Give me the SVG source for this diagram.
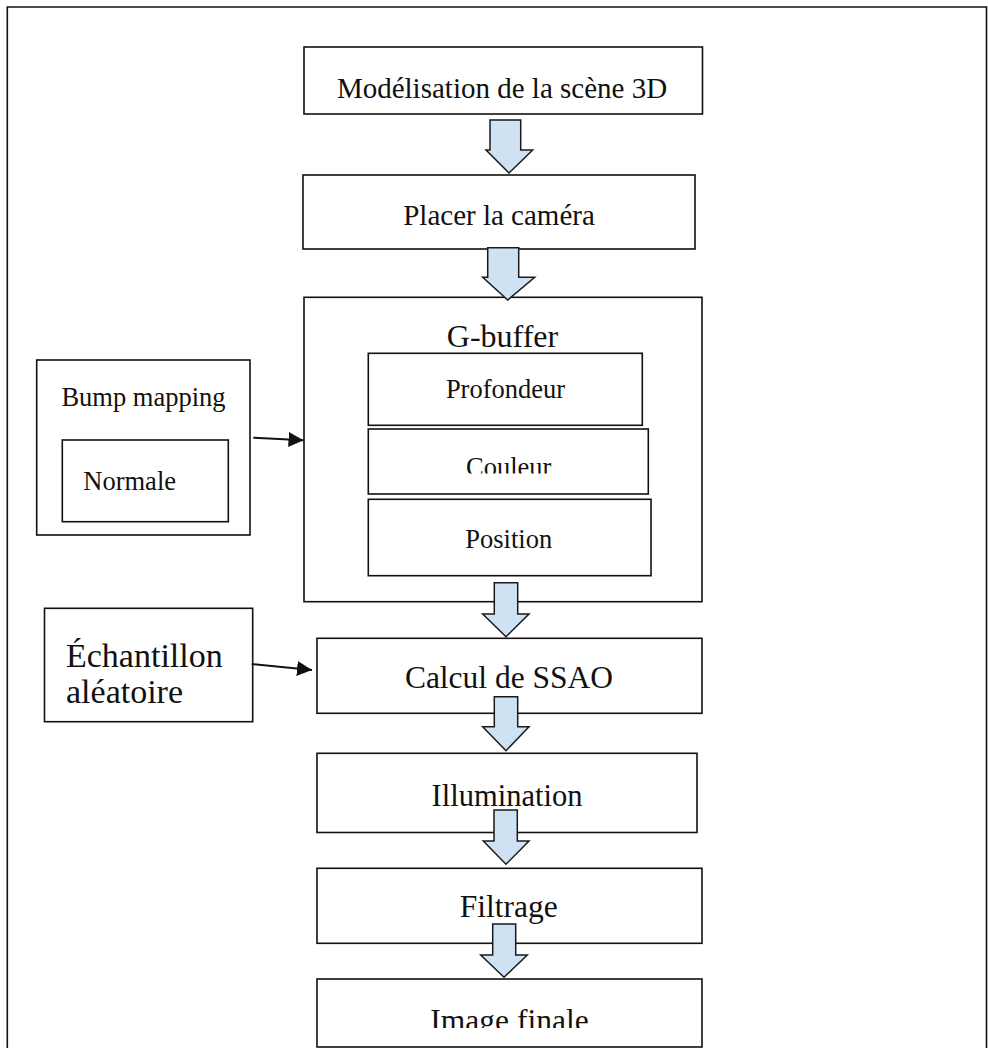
<svg xmlns="http://www.w3.org/2000/svg" width="988" height="1048" viewBox="0 0 988 1048">
<defs>
<style>
.box{fill:#fff;stroke:#111;stroke-width:1.6}
.t{font-family:"Liberation Serif","Times New Roman",serif;fill:#111}
.c{text-anchor:middle}
.flow{fill:#cfe2f3;stroke:#1a1a1a;stroke-width:1.5;stroke-linejoin:miter}
.line{stroke:#111;stroke-width:2;fill:none}
</style>
<marker id="ah" viewBox="0 0 10 10" refX="10" refY="5" markerWidth="7.5" markerHeight="7.5" markerUnits="strokeWidth" orient="auto">
<path d="M0,0 L10,5 L0,10 Z" fill="#111"/>
</marker>
<clipPath id="clipCouleur"><rect x="368" y="429" width="280" height="44.5"/></clipPath>
<clipPath id="clipFinale"><rect x="316" y="979" width="386" height="49"/></clipPath>
</defs>
<rect x="0" y="0" width="988" height="1048" fill="#fff"/>
<path d="M7.3,1048 V7 H986.5 V1048" fill="none" stroke="#111" stroke-width="1.6"/>

<g id="node-modelisation">
<rect class="box" x="304" y="47" width="398.5" height="67"/>
<text class="t c" x="502" y="97.5" font-size="29">Modélisation de la scène 3D</text>
</g>

<g id="node-camera">
<rect class="box" x="303" y="175" width="392" height="74"/>
<text class="t c" x="499" y="224.5" font-size="29">Placer la caméra</text>
</g>

<g id="node-gbuffer">
<rect class="box" x="304" y="297.3" width="398" height="304.4"/>
<text class="t c" x="502.5" y="347" font-size="32">G-buffer</text>
<g id="node-profondeur">
<rect class="box" x="368.3" y="353.3" width="274" height="72"/>
<text class="t c" x="505.5" y="398" font-size="26.5">Profondeur</text>
</g>
<g id="node-couleur">
<rect class="box" x="368.3" y="429" width="280" height="65"/>
<text class="t c" x="508.7" y="476" font-size="26.5" clip-path="url(#clipCouleur)">Couleur</text>
</g>
<g id="node-position">
<rect class="box" x="368.3" y="499.3" width="282.7" height="76.4"/>
<text class="t c" x="508.7" y="548" font-size="26.5">Position</text>
</g>
</g>

<g id="node-bump">
<rect class="box" x="36.7" y="360" width="213.3" height="175"/>
<text class="t c" x="143.5" y="406" font-size="26.5">Bump mapping</text>
<g id="node-normale">
<rect class="box" x="62.3" y="440" width="166" height="81.7"/>
<text class="t" x="83.3" y="490" font-size="26.5">Normale</text>
</g>
</g>

<g id="node-echantillon">
<rect class="box" x="44.5" y="608.3" width="208.2" height="113.4"/>
<text class="t" x="66" y="667" font-size="34">Échantillon</text>
<text class="t" x="66" y="703" font-size="34">aléatoire</text>
</g>

<g id="node-ssao">
<rect class="box" x="317" y="638.3" width="385" height="75"/>
<text class="t c" x="509" y="687.5" font-size="31.5">Calcul de SSAO</text>
</g>

<g id="node-illumination">
<rect class="box" x="317" y="753.3" width="380" height="79.2"/>
<text class="t c" x="507" y="805.5" font-size="30.5">Illumination</text>
</g>

<g id="node-filtrage">
<rect class="box" x="317" y="868.3" width="385" height="75"/>
<text class="t c" x="508.8" y="917" font-size="31.5">Filtrage</text>
</g>

<g id="node-finale">
<rect class="box" x="317" y="979" width="385" height="68"/>
<text class="t c" x="509.5" y="1031" font-size="31.5" clip-path="url(#clipFinale)">Image finale</text>
</g>

<g id="connectors">
<path class="flow" d="M490,120 H520.7 V150 H532.7 L509,173 L486,150 H490 Z"/>
<path class="flow" d="M487.7,247.7 H518.7 V277.3 H534.7 L507.7,300 L482.7,277.3 H487.7 Z"/>
<path class="flow" d="M494.3,582.7 H517.7 V614 H529 L506,636.7 L482.7,614 H494.3 Z"/>
<path class="flow" d="M494.3,696.7 H517.7 V726.7 H529 L506,750.7 L482.7,726.7 H494.3 Z"/>
<path class="flow" d="M494,810 H517.3 V841 H529 L506,864.3 L483.3,841 H494 Z"/>
<path class="flow" d="M492.7,924 H515.7 V955 H527.3 L504,977.3 L480.7,955 H492.7 Z"/>
<line class="line" x1="253.3" y1="437.7" x2="303.5" y2="440.3" marker-end="url(#ah)"/>
<line class="line" x1="251.7" y1="664" x2="312" y2="670" marker-end="url(#ah)"/>
</g>
</svg>
